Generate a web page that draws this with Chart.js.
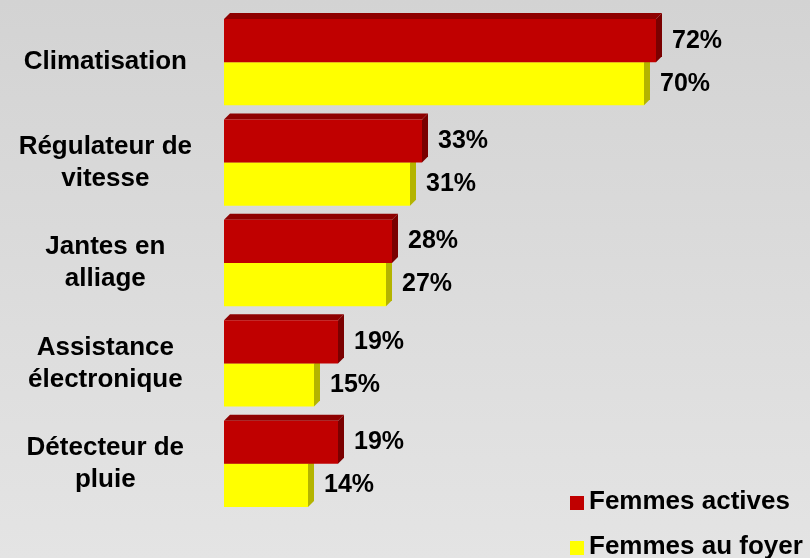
<!DOCTYPE html>
<html>
<head>
<meta charset="utf-8">
<script src="https://cdn.jsdelivr.net/npm/chart.js@4"></script>
<style>
  html, body { margin: 0; padding: 0; }
  body { width: 810px; height: 558px; background: linear-gradient(#d3d3d3, #e4e4e4); overflow: hidden; }
  #wrap { position: relative; width: 810px; height: 558px; }
  canvas { display: block; }
  #legend { position: absolute; left: 570px; top: 484px; font: bold 26px Arial, "Liberation Sans", sans-serif; color: #000; }
  #legend div { height: 45px; line-height: 32px; white-space: nowrap; }
  #legend span { display: inline-block; width: 14px; height: 14px; margin-right: 5px; vertical-align: -1px; }
</style>
</head>
<body>
<div id="wrap">
  <canvas id="chart" width="810" height="558"></canvas>
  <div id="legend"></div>
</div>
<script>
var categories = [
    'Climatisation',
    ['Régulateur de', 'vitesse'],
    ['Jantes en', 'alliage'],
    ['Assistance', 'électronique'],
    ['Détecteur de', 'pluie']
];
var seriesNames = ['Femmes actives', 'Femmes au foyer'];
var activeValues = [72, 33, 28, 19, 19];
var homeValues = [70, 31, 27, 15, 14];

var fronts = ['#c00000', '#ffff00'];
var tops = ['#8e0000', '#c8c800'];
var sides = ['#7a0000', '#b4b400'];
var depth = 6;

// fake 3D: top and side faces drawn behind the front faces
var depthFaces = {
    id: 'depthFaces',
    beforeDatasetsDraw: function (chart) {
        var ctx = chart.ctx;
        ctx.save();
        chart.data.datasets.forEach(function (ds, i) {
            chart.getDatasetMeta(i).data.forEach(function (bar) {
                var x0 = bar.base, x1 = bar.x;
                var t = bar.y - bar.height / 2, b = bar.y + bar.height / 2;
                ctx.fillStyle = tops[i];
                ctx.beginPath();
                ctx.moveTo(x0, t);
                ctx.lineTo(x0 + depth, t - depth);
                ctx.lineTo(x1 + depth, t - depth);
                ctx.lineTo(x1, t);
                ctx.fill();
                ctx.fillStyle = sides[i];
                ctx.beginPath();
                ctx.moveTo(x1, t);
                ctx.lineTo(x1 + depth, t - depth);
                ctx.lineTo(x1 + depth, b - depth);
                ctx.lineTo(x1, b);
                ctx.fill();
            });
        });
        ctx.restore();
    }
};

var valueLabels = {
    id: 'valueLabels',
    afterDatasetsDraw: function (chart) {
        var ctx = chart.ctx;
        ctx.save();
        ctx.font = 'bold 25px Arial, "Liberation Sans", sans-serif';
        ctx.fillStyle = '#000';
        ctx.textBaseline = 'middle';
        chart.data.datasets.forEach(function (ds, i) {
            chart.getDatasetMeta(i).data.forEach(function (bar, j) {
                ctx.fillText(ds.data[j] + '%', bar.x + 16, bar.y);
            });
        });
        ctx.restore();
    }
};

new Chart(document.getElementById('chart').getContext('2d'), {
    type: 'bar',
    data: {
        labels: categories,
        datasets: [
            { label: seriesNames[0], data: activeValues, backgroundColor: fronts[0] },
            { label: seriesNames[1], data: homeValues, backgroundColor: fronts[1] }
        ]
    },
    options: {
        indexAxis: 'y',
        responsive: false,
        animation: false,
        layout: { padding: { top: 12, bottom: 44, right: 16, left: 0 } },
        datasets: { bar: { categoryPercentage: 0.86, barPercentage: 1 } },
        scales: {
            x: { display: false, min: 0, max: 95 },
            y: {
                grid: { display: false },
                border: { display: false },
                afterFit: function (scale) {
                    scale.width = 224;
                    scale.paddingTop = 0;
                    scale.paddingBottom = 0;
                },
                ticks: {
                    color: '#000',
                    padding: 24,
                    crossAlign: 'center',
                    font: { family: 'Arial, "Liberation Sans", sans-serif', size: 26, weight: 'bold', lineHeight: 1.23 }
                }
            }
        },
        plugins: {
            legend: { display: false },
            tooltip: { enabled: false }
        }
    },
    plugins: [depthFaces, valueLabels]
});

var legendBox = document.getElementById('legend');
seriesNames.forEach(function (name, i) {
    var row = document.createElement('div');
    row.innerHTML = '<span style="background:' + fronts[i] + '"></span>' + name;
    legendBox.appendChild(row);
});
</script>
</body>
</html>
